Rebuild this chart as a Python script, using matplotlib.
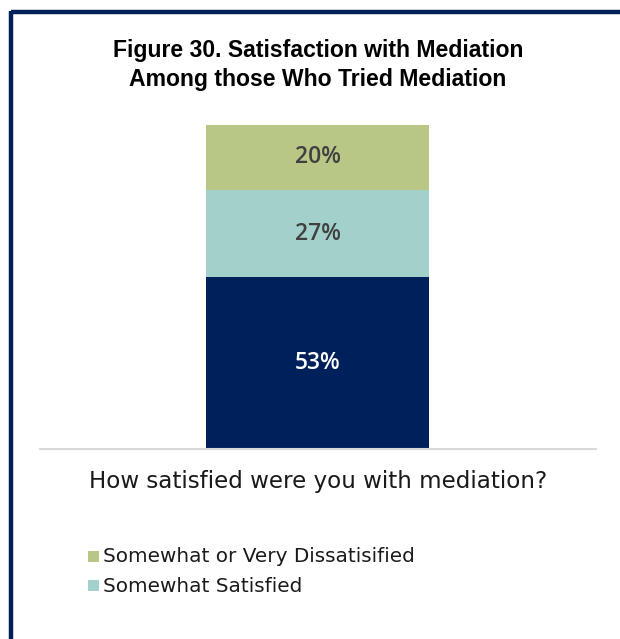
import matplotlib
matplotlib.use("Agg")
import matplotlib.pyplot as plt
from matplotlib.patches import Rectangle
from matplotlib.lines import Line2D

# Data
question = ["How satisfied were you with mediation?"]
series_names = ["Very Satisfied", "Somewhat Satisfied", "Somewhat or Very Dissatisified"]
values = [53, 27, 20]
colors = ["#00205B", "#A2D1CB", "#B8C785"]
label_colors = ["#FFFFFF", "#404040", "#404040"]
legend_names = ["Somewhat or Very Dissatisified", "Somewhat Satisfied"]
legend_colors = ["#B8C785", "#A2D1CB"]
title = "Figure 30. Satisfaction with Mediation\nAmong those Who Tried Mediation"

W, H, DPI = 620, 639, 100
fig = plt.figure(figsize=(W / DPI, H / DPI), dpi=DPI)
fig.patch.set_facecolor("white")

def fx(px):
    return px / W

def fy(py):
    return 1 - py / H

# Frame lines along the top and left edges
navy = "#00205B"
fig.add_artist(Line2D([fx(11), fx(620)], [fy(12), fy(12)], color=navy, lw=3.2,
                      transform=fig.transFigure, solid_capstyle="butt"))
fig.add_artist(Line2D([fx(11), fx(11)], [fy(10.5), fy(639)], color=navy, lw=3.2,
                      transform=fig.transFigure, solid_capstyle="butt"))

# Plot area
ax = fig.add_axes([fx(40), fy(449), fx(596) - fx(40), fy(125) - fy(449)])
bar_w = 0.6
bottom = 0
for v, c, lc in zip(values, colors, label_colors):
    ax.bar([0], [v], width=bar_w, bottom=bottom, color=c, linewidth=0)
    ax.text(0, bottom + v / 2, f"{v}%", ha="center", va="center",
            color=lc, fontsize=16.5, fontweight="semibold", family=["Open Sans", "DejaVu Sans"])
    bottom += v

half = bar_w / 2 / (223 / 556)
ax.set_xlim(-half, half)
ax.set_ylim(0, 100)
for s in ["top", "right", "left"]:
    ax.spines[s].set_visible(False)
ax.spines["bottom"].set_color("#D9D9D9")
ax.spines["bottom"].set_linewidth(1.5)
ax.set_yticks([])
ax.set_xticks([0])
ax.set_xticklabels(question, fontsize=16.6, color="#1A1A1A",
                   family=["DejaVu Sans"])
ax.tick_params(axis="x", length=0, pad=15)

# Title
fig.text(fx(318), fy(65), title, ha="center", va="center", fontsize=16.6,
         fontweight="bold", color="#000000", linespacing=1.3,
         family=["Liberation Sans", "DejaVu Sans"])

# Legend (two entries)
for i, (name, c) in enumerate(zip(legend_names, legend_colors)):
    yc = 557 + i * 29
    fig.add_artist(Rectangle((fx(88), fy(yc + 5)), fx(11), fy(yc - 6) - fy(yc + 5),
                             transform=fig.transFigure, color=c, lw=0))
    fig.text(fx(103), fy(yc), name, ha="left", va="center", fontsize=14.4,
             color="#1A1A1A", family=["DejaVu Sans"])

fig.savefig("out.png", dpi=DPI, facecolor="white")
